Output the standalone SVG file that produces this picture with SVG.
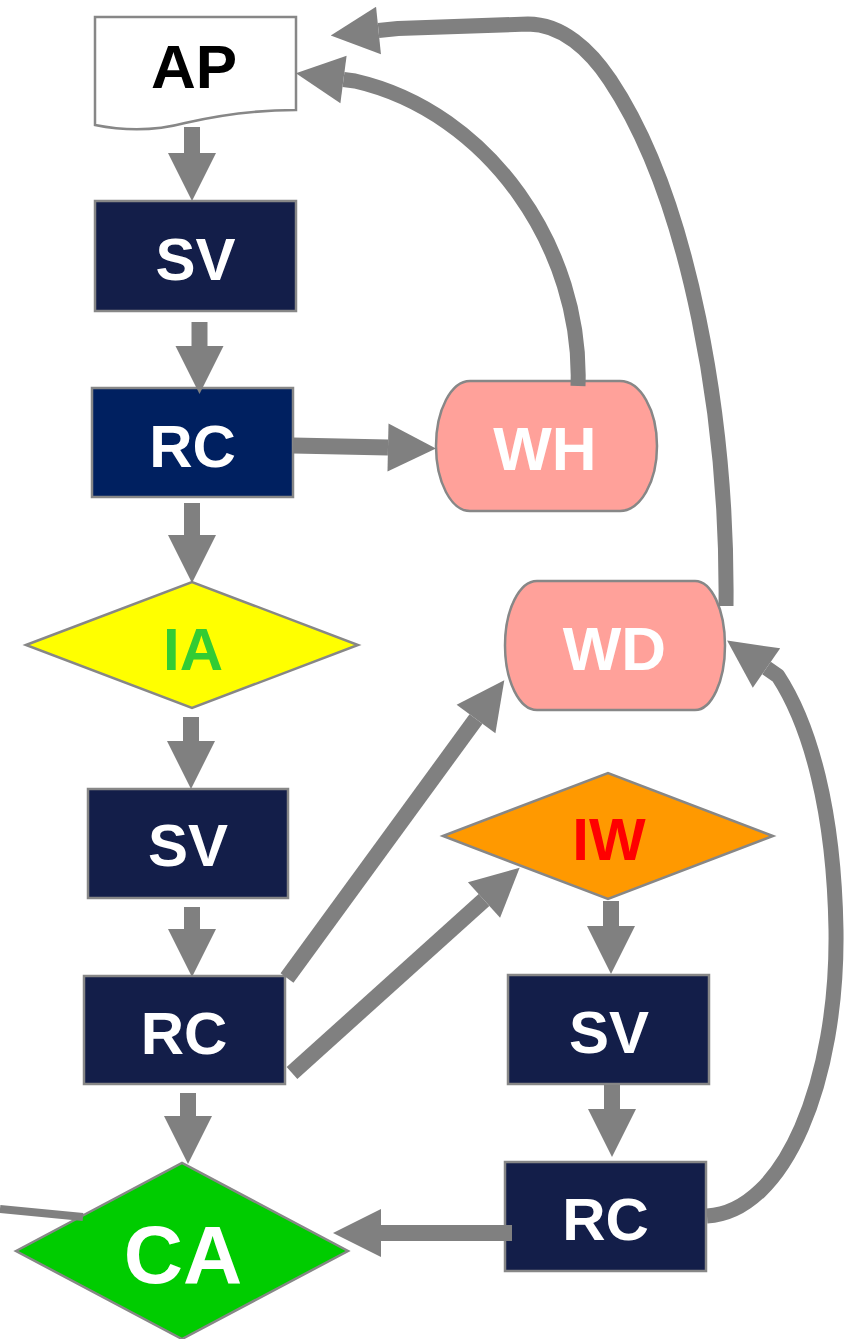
<svg xmlns="http://www.w3.org/2000/svg" width="851" height="1339" viewBox="0 0 851 1339">
  <style>
    .node { stroke: #878787; stroke-width: 2.5; }
    .navy { fill: #131E49; }
    .blue { fill: #002060; }
    .pink { fill: #FFA19A; }
    .lbl { font-family: "Liberation Sans", Arial, sans-serif; font-weight: bold; font-size: 60px; text-anchor: middle; fill: #FFFFFF; }
    .conn { fill: none; stroke: #808080; stroke-width: 16; stroke-linecap: butt; }
    .curve { fill: none; stroke: #808080; stroke-width: 15; stroke-linejoin: round; }
  </style>
  <defs>
    <marker id="arr" markerUnits="userSpaceOnUse" markerWidth="48" markerHeight="48" refX="0" refY="24" orient="auto" overflow="visible">
      <path d="M0,0 L48,24 L0,48 Z" fill="#808080"/>
    </marker>
  </defs>
  <rect width="851" height="1339" fill="#FFFFFF"/>

  <g id="node-AP">
    <path class="node" fill="#FFFFFF" d="M95,17 H296 V110 C250,110 215,116 185,123 C155,131 125,131 95,125 Z"/>
    <text class="lbl" x="194" y="88" style="fill:#000000;font-size:62px">AP</text>
  </g>
  <g id="node-SV1">
    <rect class="node navy" x="95" y="201" width="201" height="110"/>
    <text class="lbl" x="195.5" y="280">SV</text>
  </g>
  <g id="node-RC1">
    <rect class="node blue" x="92" y="388" width="201" height="109"/>
    <text class="lbl" x="192.5" y="467">RC</text>
  </g>
  <g id="node-WH">
    <path class="node pink" d="M470,381 H620 A37,65 0 0 1 620,511 H470 A34,65 0 0 1 470,381 Z"/>
    <text class="lbl" x="545" y="470" style="font-size:62px">WH</text>
  </g>
  <g id="node-WD">
    <path class="node pink" d="M537,581 H695 A30,64.5 0 0 1 695,710 H537 A32,64.5 0 0 1 537,581 Z"/>
    <text class="lbl" x="614.5" y="670" style="font-size:62px">WD</text>
  </g>
  <g id="node-IA">
    <polygon class="node" fill="#FFFF00" points="26,645 192,582 358,645 192,708"/>
    <text class="lbl" x="193" y="670" style="fill:#33CC33">IA</text>
  </g>
  <g id="node-SV2">
    <rect class="node navy" x="88" y="789" width="200" height="109"/>
    <text class="lbl" x="188" y="866">SV</text>
  </g>
  <g id="node-RC2">
    <rect class="node navy" x="84" y="976" width="201" height="108"/>
    <text class="lbl" x="184" y="1054">RC</text>
  </g>
  <g id="node-IW">
    <polygon class="node" fill="#FF9900" points="443,836 608,773 773,836 608,899"/>
    <text class="lbl" x="609" y="860" style="fill:#FF0000">IW</text>
  </g>
  <g id="node-SV3">
    <rect class="node navy" x="508" y="975" width="201" height="109"/>
    <text class="lbl" x="609" y="1053">SV</text>
  </g>
  <g id="node-RC3">
    <rect class="node navy" x="505" y="1162" width="201" height="109"/>
    <text class="lbl" x="605.5" y="1240">RC</text>
  </g>
  <g id="node-CA">
    <polygon class="node" fill="#00CC00" points="16,1251 182,1163 348,1251 182,1339"/>
    <text class="lbl" x="183" y="1283" style="font-size:82px">CA</text>
  </g>

  <g id="connectors">
    <path class="conn" d="M192,127 V153" marker-end="url(#arr)"/>
    <path class="conn" d="M199.5,322 V346" marker-end="url(#arr)"/>
    <path class="conn" d="M293,445.5 L388,447.5" marker-end="url(#arr)"/>
    <path class="conn" d="M192,503 V535" marker-end="url(#arr)"/>
    <path class="conn" d="M191,717 V741" marker-end="url(#arr)"/>
    <path class="conn" d="M192,907 V929" marker-end="url(#arr)"/>
    <path class="conn" d="M188,1093 V1116" marker-end="url(#arr)"/>
    <path class="conn" d="M287,978 L476,719" marker-end="url(#arr)"/>
    <path class="conn" d="M292,1073 L484,900" marker-end="url(#arr)"/>
    <path class="conn" d="M611,901 V926" marker-end="url(#arr)"/>
    <path class="conn" d="M612,1085 V1109" marker-end="url(#arr)"/>
    <path class="conn" d="M512,1233 H381" marker-end="url(#arr)"/>
    <path class="curve" d="M707,1216 C785,1212 838,1080 836,930 C834,810 810,725 778,676 L766.5,668" marker-end="url(#arr)"/>
    <path class="curve" d="M726,606 C728,420 690,200 610,80 C590,50 562,24 528,24 L398,28.5 L378.5,30.5" marker-end="url(#arr)"/>
    <path class="curve" d="M578,386 C583,250 490,112 355,81 L343.5,79.5" marker-end="url(#arr)"/>
    <path fill="none" stroke="#808080" stroke-width="8" d="M0,1209 L83,1217"/>
  </g>
</svg>
